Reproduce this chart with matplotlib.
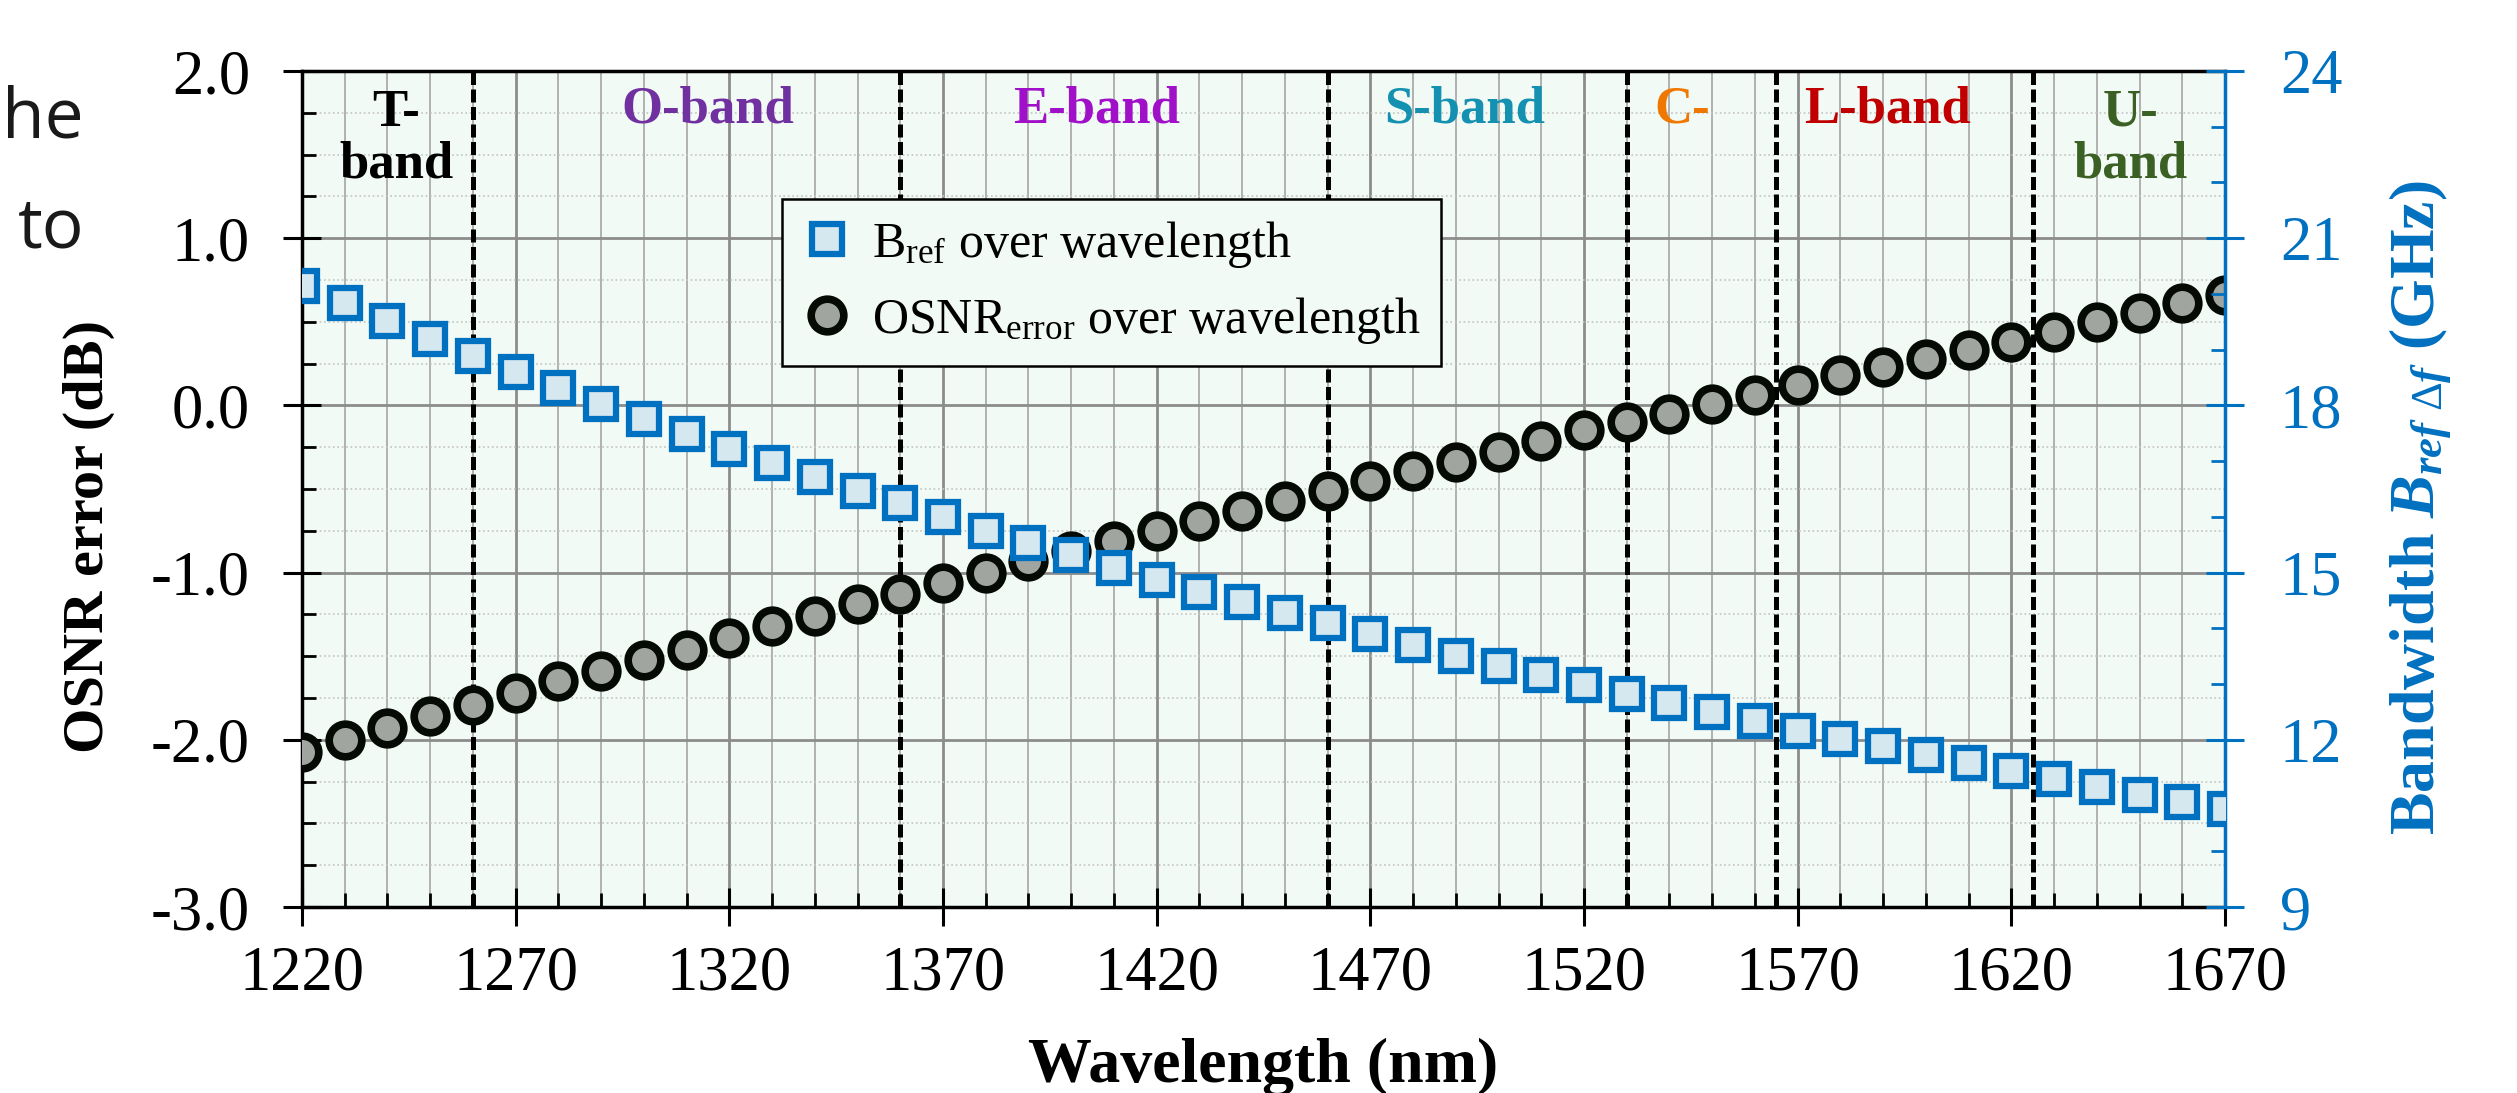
import matplotlib
matplotlib.use('Agg')
import matplotlib.pyplot as plt
from matplotlib.ticker import MultipleLocator, FormatStrFormatter
from matplotlib.lines import Line2D

plt.rcParams['font.family'] = ['Liberation Serif', 'DejaVu Serif']
plt.rcParams['axes.unicode_minus'] = False
plt.rcParams['mathtext.fontset'] = 'custom'
plt.rcParams['mathtext.rm'] = 'Liberation Serif'
plt.rcParams['mathtext.it'] = 'Liberation Serif:italic:bold'
plt.rcParams['mathtext.bf'] = 'Liberation Serif:bold'

# data
wavelength = [1220, 1230, 1240, 1250, 1260, 1270, 1280, 1290, 1300, 1310,
              1320, 1330, 1340, 1350, 1360, 1370, 1380, 1390, 1400, 1410,
              1420, 1430, 1440, 1450, 1460, 1470, 1480, 1490, 1500, 1510,
              1520, 1530, 1540, 1550, 1560, 1570, 1580, 1590, 1600, 1610,
              1620, 1630, 1640, 1650, 1660, 1670]
osnr_error = [-2.07, -2.00, -1.93, -1.86, -1.79, -1.72, -1.65, -1.59, -1.52, -1.46,
              -1.39, -1.32, -1.26, -1.19, -1.13, -1.06, -1.00, -0.93, -0.87, -0.81,
              -0.75, -0.69, -0.63, -0.57, -0.51, -0.45, -0.39, -0.34, -0.28, -0.21,
              -0.15, -0.10, -0.05, 0.01, 0.06, 0.12, 0.18, 0.23, 0.28, 0.33,
              0.38, 0.44, 0.50, 0.55, 0.61, 0.66]
bandwidth = [20.15, 19.83, 19.51, 19.20, 18.89, 18.60, 18.31, 18.03, 17.76, 17.48,
             17.22, 16.96, 16.71, 16.47, 16.24, 15.99, 15.75, 15.53, 15.31, 15.09,
             14.87, 14.66, 14.47, 14.27, 14.09, 13.89, 13.70, 13.51, 13.33, 13.16,
             12.99, 12.82, 12.66, 12.50, 12.33, 12.16, 12.02, 11.88, 11.73, 11.58,
             11.44, 11.30, 11.16, 11.01, 10.88, 10.76]

x_ticks = [1220, 1270, 1320, 1370, 1420, 1470, 1520, 1570, 1620, 1670]
band_edges = [1260, 1360, 1460, 1530, 1565, 1625]
band_names = ['T-\nband', 'O-band', 'E-band', 'S-band', 'C-', 'L-band', 'U-\nband']
band_colors = ['#000000', '#7030A0', '#A010C8', '#1490B0', '#F07800', '#C00000', '#3B6023']
band_label_x = [1242, 1315, 1406, 1492, 1543, 1591, 1648]

bg = '#F2FAF5'
blue = '#0070C0'

fig = plt.figure(figsize=(25.17, 10.93), dpi=100)
ax = fig.add_axes([302 / 2517, 1 - 907 / 1093, 1923 / 2517, 836 / 1093])
ax.set_facecolor(bg)

ax.set_xlim(1220, 1670)
ax.set_ylim(-3, 2)
ax.set_xticks(x_ticks)
ax.xaxis.set_minor_locator(MultipleLocator(10))
ax.yaxis.set_major_locator(MultipleLocator(1))
ax.yaxis.set_minor_locator(MultipleLocator(0.25))
ax.yaxis.set_major_formatter(FormatStrFormatter('%.1f'))

ax.grid(which='major', axis='both', color='#8c8c8c', lw=2)
ax.grid(which='minor', axis='x', color='#b0b0b0', lw=1.4)
ax.grid(which='minor', axis='y', color='#c4c4c4', lw=1.2, ls=':')
ax.set_axisbelow(True)

for xe in band_edges:
    ax.axvline(xe, color='black', ls=(0, (2.6, 0.9)), lw=3.6, zorder=1.5)

for name, col, xb in zip(band_names, band_colors, band_label_x):
    if '\n' in name:
        ax.text(xb, 1.595, name, color=col, fontsize=38, fontweight='bold',
                ha='center', va='center', linespacing=1.1)
    else:
        ax.text(xb, 1.77, name, color=col, fontsize=38, fontweight='bold',
                ha='center', va='center')

ax.plot(wavelength, osnr_error, ls='none', marker='o', ms=23.5, mew=5.5,
        mfc='#A0A5A0', mec='#050a05', zorder=3)

ax.tick_params(which='major', direction='inout', length=27, width=2.2, labelsize=45)
ax.tick_params(which='minor', direction='in', length=10, width=2)
ax.tick_params(axis='x', which='major', pad=14)
ax.tick_params(axis='y', which='major', pad=24)
ax.tick_params(top=False, right=False, which='both')
for s in ['left', 'bottom', 'top']:
    ax.spines[s].set_linewidth(2.5)
ax.spines['right'].set_visible(False)

ax.set_xlabel('Wavelength (nm)', fontsize=46, fontweight='bold')
ax.xaxis.label.set_va('center')
ax.xaxis.set_label_coords(0.5, -0.191)
ax.set_ylabel('OSNR error (dB)', fontsize=42, fontweight='bold')
ax.yaxis.label.set_va('center')
ax.yaxis.set_label_coords(-0.111, 0.443)

ax2 = ax.twinx()
ax2.set_ylim(9, 24)
ax2.yaxis.set_major_locator(MultipleLocator(3))
ax2.yaxis.set_minor_locator(MultipleLocator(1))
ax2.plot(wavelength, bandwidth, ls='none', marker='s', ms=21, mew=4.5,
         mfc='#D5E8F0', mec=blue, zorder=3)
for s in ['left', 'bottom', 'top']:
    ax2.spines[s].set_visible(False)
ax2.spines['right'].set_color(blue)
ax2.spines['right'].set_linewidth(2.5)
ax2.tick_params(which='major', direction='inout', length=27, width=2.2,
                labelsize=45, color=blue, labelcolor=blue, pad=26)
ax2.tick_params(which='minor', direction='in', length=10, width=2, color=blue)
ax2.set_ylabel(r'Bandwidth $B_{ref\ \Delta f}$ (GHz)', fontsize=46,
               fontweight='bold', color=blue)
ax2.yaxis.label.set_va('center')
ax2.yaxis.set_label_coords(1.1014, 0.477)

handles = [
    Line2D([], [], ls='none', marker='s', ms=21, mew=4.5, mfc='#D5E8F0', mec=blue),
    Line2D([], [], ls='none', marker='o', ms=23.5, mew=5.5, mfc='#A0A5A0', mec='#050a05'),
]
labels = [r'B$_{\rm ref}$ over wavelength', r'OSNR$_{\rm error}$ over wavelength']
leg = ax2.legend(handles, labels, loc='upper left', bbox_to_anchor=(0.2496, 0.847),
                 borderaxespad=0, fontsize=36, frameon=True, fancybox=False,
                 edgecolor='black', facecolor=bg, framealpha=1, borderpad=0.4,
                 labelspacing=0.5, handlelength=1.0, handletextpad=0.4)
leg.get_frame().set_linewidth(1.8)

# text cut off from the surrounding page
fig.text(84 / 2517, 1 - 137 / 1093, 'he', fontsize=50, family='Open Sans',
         color='#1a1a1a', ha='right', va='baseline')
fig.text(84 / 2517, 1 - 248 / 1093, 'to', fontsize=50, family='Open Sans',
         color='#1a1a1a', ha='right', va='baseline')

fig.savefig('out.png', dpi=100)
